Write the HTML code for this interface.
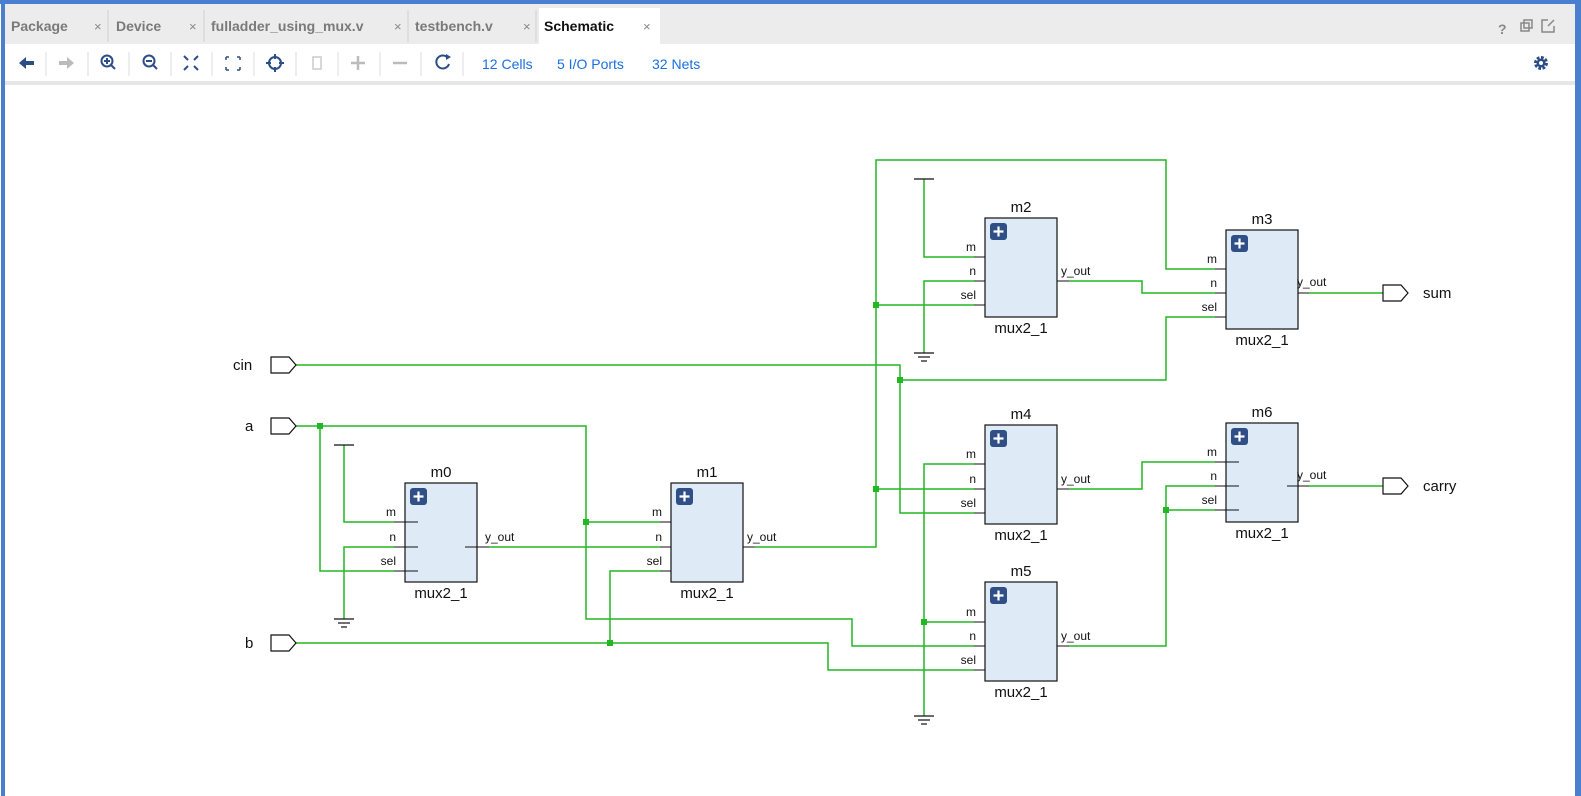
<!DOCTYPE html>
<html><head><meta charset="utf-8"><style>
html,body{margin:0;padding:0;background:#fff;}
body{width:1581px;height:796px;overflow:hidden;position:relative;font-family:"Liberation Sans",sans-serif;}
svg{position:absolute;left:0;top:0;}
</style></head><body>
<svg width="1581" height="796" viewBox="0 0 1581 796" xmlns="http://www.w3.org/2000/svg" font-family="Liberation Sans, sans-serif">
<!-- frame -->
<rect x="0" y="0" width="1581" height="796" fill="#fff"/>
<rect x="4" y="4" width="1571" height="40" fill="#ececec"/>
<rect x="539" y="8" width="121" height="36" fill="#fff"/>
<rect x="4" y="81" width="1571" height="4" fill="#e6e6e6"/>
<rect x="0" y="0" width="1581" height="4" fill="#4a7fd0"/>
<rect x="1" y="0" width="4" height="796" fill="#4a7fd0"/>
<rect x="1575" y="0" width="6" height="796" fill="#4a7fd0"/>
<!-- tabs -->
<g font-size="14" font-weight="bold" fill="#7a7a7a">
<text x="11" y="31">Package</text>
<text x="116" y="31">Device</text>
<text x="211" y="31">fulladder_using_mux.v</text>
<text x="415" y="31">testbench.v</text>
<text x="544" y="31" fill="#111">Schematic</text>
</g>
<g font-size="13" fill="#888">
<text x="94" y="31">×</text><text x="189" y="31">×</text><text x="394" y="31">×</text><text x="523" y="31">×</text><text x="643" y="31">×</text>
</g>
<g stroke="#d0d0d0"><line x1="108" y1="10" x2="108" y2="42"/><line x1="204" y1="10" x2="204" y2="42"/><line x1="408" y1="10" x2="408" y2="42"/><line x1="536" y1="10" x2="536" y2="42"/></g>
<text x="1498" y="34" font-size="14" font-weight="bold" fill="#888">?</text>
<rect x="1521" y="23" width="8" height="8" fill="none" stroke="#888" stroke-width="1.5"/><rect x="1524" y="20" width="8" height="8" fill="none" stroke="#888" stroke-width="1.5"/>
<path d="M1548 20 h-6 v12 h12 v-6 M1548 26 l6 -6" fill="none" stroke="#888" stroke-width="1.5"/>
<!-- toolbar -->
<g stroke="#ddd"><line x1="46" y1="52" x2="46" y2="76"/><line x1="88" y1="52" x2="88" y2="76"/><line x1="129" y1="52" x2="129" y2="76"/><line x1="171" y1="52" x2="171" y2="76"/><line x1="212" y1="52" x2="212" y2="76"/><line x1="254" y1="52" x2="254" y2="76"/><line x1="296" y1="52" x2="296" y2="76"/><line x1="338" y1="52" x2="338" y2="76"/><line x1="380" y1="52" x2="380" y2="76"/><line x1="421" y1="52" x2="421" y2="76"/><line x1="463" y1="52" x2="463" y2="76"/></g>
<path d="M19 63 l7 -6 v4 h8 v4 h-8 v4 z" fill="#2d4d86"/>
<path d="M74 63 l-7 -6 v4 h-8 v4 h8 v4 z" fill="#bbb"/>
<g fill="none" stroke="#2d4d86" stroke-width="2"><circle cx="107" cy="61" r="5.5"/><line x1="111" y1="65" x2="115" y2="69"/><line x1="104" y1="61" x2="110" y2="61"/><line x1="107" y1="58" x2="107" y2="64"/>
<circle cx="149" cy="61" r="5.5"/><line x1="153" y1="65" x2="157" y2="69"/><line x1="146" y1="61" x2="152" y2="61"/>
<path d="M184 56 l4 4 M198 56 l-4 4 M184 70 l4 -4 M198 70 l-4 -4"/>
<path d="M226 57 h3 M226 57 v3 M240 57 h-3 M240 57 v3 M226 70 h3 M226 70 v-3 M240 70 h-3 M240 70 v-3" stroke-width="1.5"/>
<circle cx="275" cy="63" r="6"/><line x1="275" y1="54" x2="275" y2="59"/><line x1="275" y1="67" x2="275" y2="72"/><line x1="266" y1="63" x2="271" y2="63"/><line x1="279" y1="63" x2="284" y2="63"/>
<path d="M448 58 a6.5 6.5 0 1 0 1 6"/></g>
<path d="M446 54 l5 3 l-5 3 z" fill="#2d4d86"/>
<rect x="313" y="57" width="8" height="12" fill="none" stroke="#ccc" stroke-width="1.5"/>
<g stroke="#bbb" stroke-width="2.5"><line x1="351" y1="63" x2="365" y2="63"/><line x1="358" y1="56" x2="358" y2="70"/><line x1="393" y1="63" x2="407" y2="63"/></g>
<g font-size="14" fill="#1a6fe0"><text x="482" y="69">12 Cells</text><text x="557" y="69">5 I/O Ports</text><text x="652" y="69">32 Nets</text></g>
<circle cx="1541" cy="63" r="5" fill="none" stroke="#2d4d86" stroke-width="4" stroke-dasharray="2.5 1.4"/><circle cx="1541" cy="63" r="4.5" fill="#2d4d86"/><circle cx="1541" cy="63" r="2" fill="#fff"/>

<!-- wires -->
<g fill="none" stroke="#22b822" stroke-width="1.5">
<polyline points="296,365 900,365 900,513 974,513"/>
<polyline points="900,380 1166,380 1166,317 1215,317"/>
<polyline points="296,426 586,426 586,619 852,619 852,646 974,646"/>
<polyline points="320,426 320,571 394,571"/>
<polyline points="586,522 660,522"/>
<polyline points="296,643 828,643 828,670 974,670"/>
<polyline points="610,643 610,571 660,571"/>
<polyline points="344,445 344,522 394,522"/>
<polyline points="344,619 344,547 394,547"/>
<polyline points="489,547 660,547"/>
<polyline points="755,547 876,547 876,160 1166,160 1166,269 1215,269"/>
<polyline points="876,305 974,305"/>
<polyline points="876,489 974,489"/>
<polyline points="924,179 924,257 974,257"/>
<polyline points="924,353 924,281 974,281"/>
<polyline points="924,716 924,464 974,464"/>
<polyline points="924,622 974,622"/>
<polyline points="1069,281 1142,281 1142,293 1215,293"/>
<polyline points="1069,489 1142,489 1142,462 1215,462"/>
<polyline points="1069,646 1166,646 1166,486 1215,486"/>
<polyline points="1166,510 1215,510"/>
<polyline points="1309,293 1383,293"/>
<polyline points="1309,486 1383,486"/>
</g>
<g fill="#22b822">
<rect x="897" y="377" width="6" height="6"/><rect x="317" y="423" width="6" height="6"/><rect x="583" y="519" width="6" height="6"/><rect x="607" y="640" width="6" height="6"/>
<rect x="873" y="302" width="6" height="6"/><rect x="873" y="486" width="6" height="6"/><rect x="921" y="619" width="6" height="6"/><rect x="1163" y="507" width="6" height="6"/>
</g>
<!-- power symbols -->
<g stroke="#111" stroke-width="1.2">
<line x1="334" y1="445" x2="354" y2="445"/><line x1="914" y1="179" x2="934" y2="179"/>
<line x1="334" y1="619" x2="354" y2="619"/><line x1="338" y1="623" x2="350" y2="623"/><line x1="341" y1="627" x2="347" y2="627"/>
<line x1="914" y1="353" x2="934" y2="353"/><line x1="918" y1="357" x2="930" y2="357"/><line x1="921" y1="361" x2="927" y2="361"/>
<line x1="914" y1="716" x2="934" y2="716"/><line x1="918" y1="720" x2="930" y2="720"/><line x1="921" y1="724" x2="927" y2="724"/>
</g>
<!-- ports -->
<g fill="#fff" stroke="#111" stroke-width="1.2">
<path d="M271 357 h18 l7 8 l-7 8 h-18 z"/>
<path d="M271 418 h18 l7 8 l-7 8 h-18 z"/>
<path d="M271 635 h18 l7 8 l-7 8 h-18 z"/>
<path d="M1383 285 h18 l7 8 l-7 8 h-18 z"/>
<path d="M1383 478 h18 l7 8 l-7 8 h-18 z"/>
</g>
<g font-size="15" fill="#111">
<text x="233" y="370">cin</text><text x="245" y="431">a</text><text x="245" y="648">b</text>
<text x="1423" y="298">sum</text><text x="1423" y="491">carry</text>
</g>

<!-- blocks -->
<g id="blocks" font-size="12" fill="#111">
<!-- m0 -->
<g transform="translate(405,483)">
<rect x="0" y="0" width="72" height="99" fill="#dfeaf7" stroke="#111" stroke-width="1.2"/>
<rect x="5" y="5" width="17" height="17" rx="3" fill="#2f4f86"/><path d="M13.5 8.5v10M8.5 13.5h10" stroke="#fff" stroke-width="2.2"/>
<g stroke="#111"><line x1="-11" y1="39" x2="13" y2="39"/><line x1="-11" y1="64" x2="13" y2="64"/><line x1="-11" y1="88" x2="13" y2="88"/><line x1="60" y1="64" x2="84" y2="64"/></g>
<text x="-9" y="33" text-anchor="end">m</text><text x="-9" y="58" text-anchor="end">n</text><text x="-9" y="82" text-anchor="end">sel</text><text x="80" y="58">y_out</text>
<text x="36" y="-6" text-anchor="middle" font-size="15">m0</text><text x="36" y="115" text-anchor="middle" font-size="15">mux2_1</text>
</g>
<!-- m1 -->
<g transform="translate(671,483)">
<rect x="0" y="0" width="72" height="99" fill="#dfeaf7" stroke="#111" stroke-width="1.2"/>
<rect x="5" y="5" width="17" height="17" rx="3" fill="#2f4f86"/><path d="M13.5 8.5v10M8.5 13.5h10" stroke="#fff" stroke-width="2.2"/>
<g stroke="#111"><line x1="-11" y1="39" x2="0" y2="39"/><line x1="-11" y1="64" x2="0" y2="64"/><line x1="-11" y1="88" x2="0" y2="88"/><line x1="72" y1="64" x2="84" y2="64"/></g>
<text x="-9" y="33" text-anchor="end">m</text><text x="-9" y="58" text-anchor="end">n</text><text x="-9" y="82" text-anchor="end">sel</text><text x="76" y="58">y_out</text>
<text x="36" y="-6" text-anchor="middle" font-size="15">m1</text><text x="36" y="115" text-anchor="middle" font-size="15">mux2_1</text>
</g>
<!-- m2 -->
<g transform="translate(985,218)">
<rect x="0" y="0" width="72" height="99" fill="#dfeaf7" stroke="#111" stroke-width="1.2"/>
<rect x="5" y="5" width="17" height="17" rx="3" fill="#2f4f86"/><path d="M13.5 8.5v10M8.5 13.5h10" stroke="#fff" stroke-width="2.2"/>
<g stroke="#111"><line x1="-11" y1="39" x2="0" y2="39"/><line x1="-11" y1="63" x2="0" y2="63"/><line x1="-11" y1="87" x2="0" y2="87"/><line x1="72" y1="63" x2="84" y2="63"/></g>
<text x="-9" y="33" text-anchor="end">m</text><text x="-9" y="57" text-anchor="end">n</text><text x="-9" y="81" text-anchor="end">sel</text><text x="76" y="57">y_out</text>
<text x="36" y="-6" text-anchor="middle" font-size="15">m2</text><text x="36" y="115" text-anchor="middle" font-size="15">mux2_1</text>
</g>
<!-- m3 -->
<g transform="translate(1226,230)">
<rect x="0" y="0" width="72" height="99" fill="#dfeaf7" stroke="#111" stroke-width="1.2"/>
<rect x="5" y="5" width="17" height="17" rx="3" fill="#2f4f86"/><path d="M13.5 8.5v10M8.5 13.5h10" stroke="#fff" stroke-width="2.2"/>
<g stroke="#111"><line x1="-11" y1="39" x2="0" y2="39"/><line x1="-11" y1="63" x2="0" y2="63"/><line x1="-11" y1="87" x2="0" y2="87"/><line x1="72" y1="63" x2="83" y2="63"/></g>
<text x="-9" y="33" text-anchor="end">m</text><text x="-9" y="57" text-anchor="end">n</text><text x="-9" y="81" text-anchor="end">sel</text><text x="71" y="56">y_out</text>
<text x="36" y="-6" text-anchor="middle" font-size="15">m3</text><text x="36" y="115" text-anchor="middle" font-size="15">mux2_1</text>
</g>
<!-- m4 -->
<g transform="translate(985,425)">
<rect x="0" y="0" width="72" height="99" fill="#dfeaf7" stroke="#111" stroke-width="1.2"/>
<rect x="5" y="5" width="17" height="17" rx="3" fill="#2f4f86"/><path d="M13.5 8.5v10M8.5 13.5h10" stroke="#fff" stroke-width="2.2"/>
<g stroke="#111"><line x1="-11" y1="39" x2="0" y2="39"/><line x1="-11" y1="64" x2="0" y2="64"/><line x1="-11" y1="88" x2="0" y2="88"/><line x1="72" y1="64" x2="84" y2="64"/></g>
<text x="-9" y="33" text-anchor="end">m</text><text x="-9" y="58" text-anchor="end">n</text><text x="-9" y="82" text-anchor="end">sel</text><text x="76" y="58">y_out</text>
<text x="36" y="-6" text-anchor="middle" font-size="15">m4</text><text x="36" y="115" text-anchor="middle" font-size="15">mux2_1</text>
</g>
<!-- m5 -->
<g transform="translate(985,582)">
<rect x="0" y="0" width="72" height="99" fill="#dfeaf7" stroke="#111" stroke-width="1.2"/>
<rect x="5" y="5" width="17" height="17" rx="3" fill="#2f4f86"/><path d="M13.5 8.5v10M8.5 13.5h10" stroke="#fff" stroke-width="2.2"/>
<g stroke="#111"><line x1="-11" y1="40" x2="0" y2="40"/><line x1="-11" y1="64" x2="0" y2="64"/><line x1="-11" y1="88" x2="0" y2="88"/><line x1="72" y1="64" x2="84" y2="64"/></g>
<text x="-9" y="34" text-anchor="end">m</text><text x="-9" y="58" text-anchor="end">n</text><text x="-9" y="82" text-anchor="end">sel</text><text x="76" y="58">y_out</text>
<text x="36" y="-6" text-anchor="middle" font-size="15">m5</text><text x="36" y="115" text-anchor="middle" font-size="15">mux2_1</text>
</g>
<!-- m6 -->
<g transform="translate(1226,423)">
<rect x="0" y="0" width="72" height="99" fill="#dfeaf7" stroke="#111" stroke-width="1.2"/>
<rect x="5" y="5" width="17" height="17" rx="3" fill="#2f4f86"/><path d="M13.5 8.5v10M8.5 13.5h10" stroke="#fff" stroke-width="2.2"/>
<g stroke="#111"><line x1="-11" y1="39" x2="13" y2="39"/><line x1="-11" y1="63" x2="13" y2="63"/><line x1="-11" y1="87" x2="13" y2="87"/><line x1="61" y1="63" x2="83" y2="63"/></g>
<text x="-9" y="33" text-anchor="end">m</text><text x="-9" y="57" text-anchor="end">n</text><text x="-9" y="81" text-anchor="end">sel</text><text x="71" y="56">y_out</text>
<text x="36" y="-6" text-anchor="middle" font-size="15">m6</text><text x="36" y="115" text-anchor="middle" font-size="15">mux2_1</text>
</g>
</g>
</svg>
</body></html>
